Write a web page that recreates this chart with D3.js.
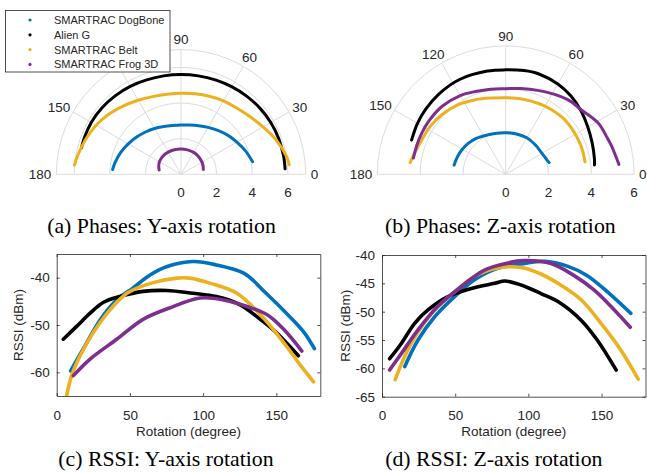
<!DOCTYPE html>
<html>
<head>
<meta charset="utf-8">
<script src="https://cdn.jsdelivr.net/npm/d3@7"></script>
<style>
  html, body { margin: 0; padding: 0; background: #fff; }
  svg { display: block; }
  text { font-family: "Liberation Sans", Arial, Helvetica, sans-serif; fill: #262626; }
  .cap { font-family: "Liberation Serif", "Times New Roman", serif; fill: #000; }
</style>
</head>
<body>
<svg id="fig" width="647" height="472"></svg>
<script>
// ---- series ----
const seriesNames  = ["SMARTRAC DogBone", "Alien G", "SMARTRAC Belt", "SMARTRAC Frog 3D"];
const seriesColors = ["#0072BD", "#000000", "#EDB120", "#7E2F8E"];

// ---- phase (rad) vs rotation angle (deg): Y-axis rotation ----
const phaseY_DogBone = [[10,4.08],[20,3.85],[30,3.62],[40,3.42],[50,3.22],[60,3.04],[70,2.9],[80,2.81],[90,2.77],[100,2.78],[110,2.85],[120,2.97],[130,3.1],[140,3.25],[150,3.42],[160,3.6],[170,3.76],[176,3.85]];
const phaseY_AlienG   = [[3,5.85],[10,5.85],[20,5.84],[30,5.82],[40,5.78],[50,5.73],[60,5.68],[70,5.64],[80,5.61],[90,5.6],[100,5.61],[110,5.64],[120,5.7],[130,5.75],[140,5.8],[150,5.82],[160,5.8],[165,5.78]];
const phaseY_Belt     = [[5,6.1],[10,6.0],[20,5.67],[30,5.32],[40,5.04],[50,4.86],[60,4.76],[70,4.66],[80,4.59],[90,4.55],[100,4.56],[110,4.64],[120,4.8],[130,5.02],[140,5.27],[150,5.5],[160,5.7],[170,5.9],[175,6.0]];
const phaseY_Frog3D   = [[12,1.28],[20,1.32],[30,1.36],[45,1.4],[60,1.42],[75,1.42],[90,1.42],[105,1.43],[120,1.44],[135,1.44],[150,1.4],[160,1.33],[169,1.25]];

// ---- phase (rad) vs rotation angle (deg): Z-axis rotation ----
const phaseZ_DogBone = [[15,2.1],[20,2.03],[30,1.96],[45,1.95],[60,1.97],[75,1.95],[90,1.94],[105,1.97],[120,2.07],[130,2.18],[140,2.27],[150,2.34],[160,2.4],[170,2.45]];
const phaseZ_AlienG   = [[6,4.17],[10,4.21],[20,4.3],[30,4.43],[40,4.6],[50,4.76],[60,4.87],[72,4.94],[80,4.92],[90,4.88],[100,4.9],[116,4.93],[130,4.88],[141,4.82],[150,4.76],[160,4.68]];
const phaseZ_Belt     = [[9,3.75],[22,3.76],[42,3.76],[55,3.7],[65,3.65],[78,3.6],[90,3.58],[100,3.62],[112,3.76],[125,3.95],[137,4.08],[148,4.18],[158,4.24],[166,4.35],[173,4.5]];
const phaseZ_Frog3D   = [[5,5.31],[10,5.2],[15,5.12],[20,5.04],[29,4.94],[41,4.63],[48,4.57],[55,4.45],[69,4.2],[80,4.07],[90,4.0],[100,4.04],[110,4.12],[120,4.25],[133,4.35],[145,4.37],[154,4.37],[162,4.37],[170,4.38]];

// ---- RSSI (dBm) vs rotation (deg): Y-axis rotation ----
const rssiY_DogBone = [[9.5,-59.7],[18,-55.1],[30,-48.8],[41,-44.7],[52,-42.2],[64,-39.4],[75,-37.7],[93,-36.6],[109,-37.3],[128,-39.1],[143,-43.3],[159,-48.2],[169,-51.6],[176,-55.0]];
const rssiY_AlienG   = [[4.5,-53.0],[13.6,-50.3],[22.8,-47.5],[32,-45.2],[43,-44.0],[59,-42.9],[75,-42.7],[93,-43.3],[109,-44.0],[125,-45.7],[139,-48.8],[150,-51.6],[165,-56.5]];
const rssiY_Belt     = [[6.8,-64.9],[10.2,-60.7],[16,-56.5],[25,-51.6],[36.4,-46.8],[48,-43.3],[64,-41.2],[82,-40.1],[91,-40.1],[105,-41.2],[123,-43.3],[139,-47.8],[155,-53.7],[166,-58.3],[175.4,-62.0]];
const rssiY_Frog3D   = [[11.4,-60.7],[22.8,-57.2],[41,-53.0],[59,-48.8],[77,-46.4],[98,-44.3],[114,-44.7],[130,-46.1],[143.5,-47.8],[155,-50.9],[167.4,-55.5]];

// ---- RSSI (dBm) vs rotation (deg): Z-axis rotation ----
const rssiZ_DogBone = [[15.5,-59.7],[24.6,-55.0],[36,-50.9],[49.6,-47.35],[63,-44.4],[79,-42.35],[95,-41.6],[111,-41.1],[127,-42.0],[140,-43.6],[154,-46.5],[170,-50.3]];
const rssiZ_AlienG   = [[5.2,-58.3],[13.2,-55.6],[22.3,-52.05],[31.4,-49.7],[45,-47.35],[61,-45.9],[77,-45.0],[84,-44.6],[95,-45.3],[108.6,-46.8],[122,-48.5],[136,-51.5],[147,-55.0],[160,-60.3]];
const rssiZ_Belt     = [[9,-62.0],[15.5,-57.9],[24.6,-53.6],[36,-49.7],[49.6,-46.5],[63,-43.8],[79,-42.3],[95,-42.2],[108.6,-43.35],[122,-45.3],[136,-47.9],[149.5,-52.0],[163,-56.7],[175,-61.9]];
const rssiZ_Frog3D   = [[5.2,-60.3],[13.2,-57.4],[24.6,-53.2],[38,-49.1],[54,-45.6],[70,-42.65],[86,-41.4],[97,-41.0],[115.5,-41.5],[131,-43.6],[145,-46.2],[158.7,-49.7],[169.6,-52.75]];

// ---- axis ticks and labels ----
const polarAngleTicksY = [0, 30, 60, 90, 150, 180];       // 120 sits under the legend
const polarAngleTicksZ = [0, 30, 60, 90, 120, 150, 180];
const polarRadiusTicks = [0, 2, 4, 6];
const rotationTicks = [0, 50, 100, 150];
const rssiTicksY = [-60, -50, -40];
const rssiTicksZ = [-65, -60, -55, -50, -45, -40];
const xLabel = "Rotation (degree)";
const yLabel = "RSSI (dBm)";
const captions = ["(a) Phases: Y-axis rotation", "(b) Phases: Z-axis rotation",
                  "(c) RSSI: Y-axis rotation", "(d) RSSI: Z-axis rotation"];

const svg = d3.select("#fig");
const FS = 13.5;
const gridColor = "#dcdcdc";
const axisColor = "#262626";

// Half-polar plot: theta 0..180 deg counter-clockwise from +x, radius = phase
function polarPanel(cx, cy, R, rMax, angleTicks, series) {
  const g = svg.append("g").attr("transform", `translate(${cx},${cy})`);
  const r = d3.scaleLinear().domain([0, rMax]).range([0, R]);
  // d3 radial angles run clockwise from 12 o'clock
  const ang = d3.scaleLinear().domain([0, 180]).range([Math.PI / 2, -Math.PI / 2]);
  const rad = d => d * Math.PI / 180;

  const rings = polarRadiusTicks.filter(v => v > 0 && v < rMax).concat([rMax]);
  g.selectAll("path.ring").data(rings).join("path")
    .attr("class", "ring")
    .attr("d", v => `M${-r(v)},0A${r(v)},${r(v)} 0 0 1 ${r(v)},0`)
    .attr("fill", "none").attr("stroke", gridColor).attr("stroke-width", 1);
  g.selectAll("line.spoke").data([30, 60, 90, 120, 150]).join("line")
    .attr("class", "spoke")
    .attr("x1", 0).attr("y1", 0)
    .attr("x2", a => R * Math.cos(rad(a))).attr("y2", a => -R * Math.sin(rad(a)))
    .attr("stroke", gridColor).attr("stroke-width", 1);
  g.append("line").attr("x1", -R).attr("x2", R).attr("y1", 0).attr("y2", 0)
    .attr("stroke", gridColor).attr("stroke-width", 1);

  // angle labels outside the rim
  g.selectAll("text.ang").data(angleTicks).join("text")
    .attr("class", "ang")
    .attr("font-size", FS)
    .attr("text-anchor", "middle").attr("dy", "0.35em")
    .attr("x", a => { const w = 0.556 * FS * String(a).length; return (R + 5 + w / 2) * Math.cos(rad(a)); })
    .attr("y", a => -(R + 5 + 5) * Math.sin(rad(a)))
    .text(a => a);

  // radius labels below the diameter
  g.selectAll("text.rad").data(polarRadiusTicks).join("text")
    .attr("class", "rad")
    .attr("font-size", FS).attr("text-anchor", "middle")
    .attr("x", v => r(v)).attr("y", 22.4)
    .text(v => v);

  const line = d3.lineRadial()
    .angle(d => ang(d[0])).radius(d => r(d[1]))
    .curve(d3.curveCatmullRom);
  series.forEach((s, i) => {
    g.append("path").datum(s).attr("d", line)
      .attr("fill", "none").attr("stroke", seriesColors[i])
      .attr("stroke-width", 3).attr("stroke-linecap", "round").attr("stroke-linejoin", "round");
  });
}

// Cartesian RSSI plot with a boxed frame and inward ticks
function rssiPanel(x0, x1, yTop, yBot, yDomain, yTicks, series, yLabelX) {
  const x = d3.scaleLinear().domain([0, 180]).range([x0, x1]);
  const y = d3.scaleLinear().domain(yDomain).range([yBot, yTop]);
  const g = svg.append("g");

  const clipId = "clip" + Math.round(x0);
  svg.append("clipPath").attr("id", clipId).append("rect")
    .attr("x", x0).attr("y", yTop).attr("width", x1 - x0).attr("height", yBot - yTop);

  const line = d3.line().x(d => x(d[0])).y(d => y(d[1])).curve(d3.curveCatmullRom);
  const gd = g.append("g").attr("clip-path", `url(#${clipId})`);
  series.forEach((s, i) => {
    gd.append("path").datum(s).attr("d", line)
      .attr("fill", "none").attr("stroke", seriesColors[i])
      .attr("stroke-width", 3.6).attr("stroke-linecap", "round").attr("stroke-linejoin", "round");
  });

  const styleAxis = sel => {
    sel.selectAll("path.domain").attr("stroke", axisColor).attr("stroke-width", 0.8);
    sel.selectAll(".tick line").attr("stroke", axisColor).attr("stroke-width", 0.8);
    sel.selectAll(".tick text").attr("fill", axisColor).attr("font-size", FS)
      .attr("font-family", '"Liberation Sans", Arial, Helvetica, sans-serif');
  };
  g.append("g").attr("transform", `translate(0,${yBot})`)
    .call(d3.axisBottom(x).tickValues(rotationTicks).tickSizeInner(-3).tickSizeOuter(0).tickPadding(14).tickFormat(d => String(d)))
    .call(styleAxis);
  g.append("g").attr("transform", `translate(0,${yTop})`)
    .call(d3.axisTop(x).tickValues(rotationTicks).tickSizeInner(-3).tickSizeOuter(0).tickFormat(""))
    .call(styleAxis);
  g.append("g").attr("transform", `translate(${x0},0)`)
    .call(d3.axisLeft(y).tickValues(yTicks).tickSizeInner(-3).tickSizeOuter(0).tickPadding(7).tickFormat(d => String(d)))
    .call(styleAxis);
  g.append("g").attr("transform", `translate(${x1},0)`)
    .call(d3.axisRight(y).tickValues(yTicks).tickSizeInner(-3).tickSizeOuter(0).tickFormat(""))
    .call(styleAxis);

  svg.append("text").attr("font-size", FS).attr("text-anchor", "middle")
    .attr("x", (x0 + x1) / 2).attr("y", 435.5).text(xLabel);
  svg.append("text").attr("font-size", FS).attr("text-anchor", "middle").attr("dy", "0.35em")
    .attr("transform", `translate(${yLabelX},${(yTop + yBot) / 2}) rotate(-90)`).text(yLabel);
}

polarPanel(181, 174.3, 124.7, 7, polarAngleTicksY, [phaseY_DogBone, phaseY_AlienG, phaseY_Belt, phaseY_Frog3D]);
polarPanel(505.7, 174.3, 128.4, 6, polarAngleTicksZ, [phaseZ_DogBone, phaseZ_AlienG, phaseZ_Belt, phaseZ_Frog3D]);

rssiPanel(56.7, 320.3, 254, 396, [-65, -35], rssiTicksY,
  [rssiY_DogBone, rssiY_AlienG, rssiY_Belt, rssiY_Frog3D], 18.3);
rssiPanel(382, 645.5, 255, 396.7, [-65, -40], rssiTicksZ,
  [rssiZ_DogBone, rssiZ_AlienG, rssiZ_Belt, rssiZ_Frog3D], 345);

// legend, drawn over the first polar plot
const lg = svg.append("g");
lg.append("rect").attr("x", 5.5).attr("y", 10.5).attr("width", 164.5).attr("height", 61.5)
  .attr("fill", "#fff").attr("stroke", axisColor).attr("stroke-width", 0.8);
seriesNames.forEach((name, i) => {
  const cy = 20 + i * 14.8;
  lg.append("circle").attr("cx", 30).attr("cy", cy).attr("r", 1.6).attr("fill", seriesColors[i]);
  lg.append("text").attr("x", 54).attr("y", cy).attr("dy", "0.36em")
    .attr("font-size", 11).attr("fill", "#000").text(name);
});

// sub-figure captions
const capPos = [[161.5, 233], [500.4, 233], [165.9, 466], [493.8, 466]];
captions.forEach((c, i) => {
  svg.append("text").attr("class", "cap").attr("font-size", 21.8).attr("text-anchor", "middle")
    .attr("x", capPos[i][0]).attr("y", capPos[i][1]).text(c);
});
</script>
</body>
</html>
